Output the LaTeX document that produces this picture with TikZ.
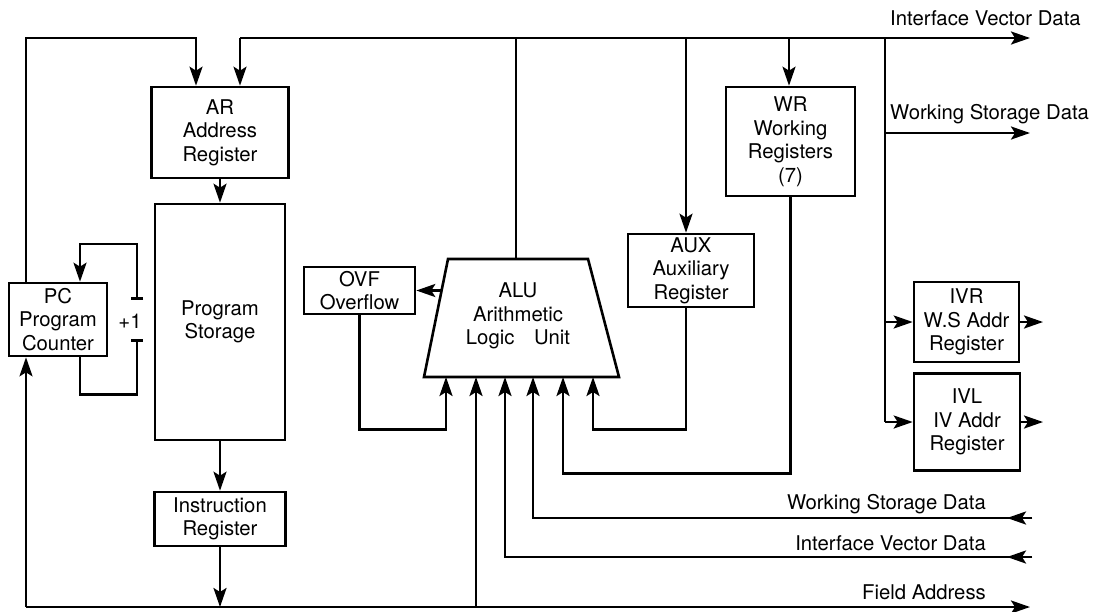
\documentclass[tikz,border=0pt]{standalone}
\usepackage{fontspec}
\setmainfont{TeX Gyre Heros}
\usetikzlibrary{arrows.meta,calc}
\begin{document}
\begin{tikzpicture}[x=1pt,y=-1pt,
  every node/.style={font=\fontsize{20.3}{23.5}\selectfont},
  lw/.style={line width=2.6pt},
  box/.style={draw,lw,align=center,inner sep=0pt},
  tip/.tip={Stealth[length=19pt 0 0,width=13pt 0 0,inset=4pt]},
  arr/.style={lw,-tip},
  wire/.style={lw},
  lbl/.style={inner sep=0pt},
  tbar/.style={lw,-{Bar[width=12pt 0 0]}},
  tbararr/.style={lw,{Bar[width=12pt 0 0]}-tip}]
\useasboundingbox (0,0) rectangle (1094,611);

% boxes
\node[box,minimum width=137pt,minimum height=91pt] (ar) at (220,132.5) {AR\\Address\\Register};
\node[box,minimum width=130pt,minimum height=236pt] (ps) at (220,322) {Program\\Storage};
\node[box,minimum width=131pt,minimum height=54pt] (ir) at (220,519) {Instruction\\Register};
\node[box,minimum width=98pt,minimum height=73pt] (pc) at (58,319.5) {PC\\Program\\Counter};
\node[box,minimum width=111pt,minimum height=47pt] (ovf) at (359.5,290.5) {OVF\\Overflow};
\node[box,minimum width=126pt,minimum height=73pt] (aux) at (691,270.5) {AUX\\Auxiliary\\Register};
\node[box,minimum width=129pt,minimum height=109pt] (wr) at (790.5,141.5) {WR\\Working\\Registers\\(7)};
\node[box,minimum width=105pt,minimum height=80pt] (ivr) at (966.5,322) {IVR\\W.S Addr\\Register};
\node[box,minimum width=106pt,minimum height=97pt] (ivl) at (967,422) {IVL\\IV Addr\\Register};

% ALU
\coordinate (alutl) at (448,259);
\coordinate (alutr) at (588,259);
\coordinate (alubr) at (619,377);
\coordinate (alubl) at (424,377);
\draw[lw] (alutl) -- (alutr) -- (alubr) -- (alubl) -- cycle;
\node[align=center,inner sep=0pt] (alu) at (518,316) {ALU\\Arithmetic\\Logic\hspace{14pt} Unit};

% +1
\node[inner sep=0pt] (inc) at (130,321) {+1};

% labels
\node[lbl,anchor=base west] (tIV) at (890,25) {Interface Vector Data};
\node[lbl,anchor=base west] (tWS) at (890,119) {Working Storage Data};
\node[lbl,anchor=base east] (bWS) at (986,509) {Working Storage Data};
\node[lbl,anchor=base east] (bIV) at (986,550) {Interface Vector Data};
\node[lbl,anchor=base east] (bFA) at (986,599) {Field Address};

% coordinates
\coordinate (pcx) at (26,0);
\coordinate (jA) at (196,38);
\coordinate (bL) at (240,38);
\coordinate (bR) at (1030,38);
\coordinate (bA) at (516,38);
\coordinate (bX) at (686,38);
\coordinate (bW) at (789,38);
\coordinate (bV) at (885,38);
\coordinate (wsout) at (1030,133);
\coordinate (ivrout) at (1043,322);
\coordinate (ivlout) at (1043,422);
\coordinate (fL) at (26,607);
\coordinate (fR) at (1030,607);
\coordinate (loopx) at (80,0);
\coordinate (pl1) at (137,300);
\coordinate (pl2) at (137,339);
\coordinate (cx1) at (446,0);
\coordinate (cx2) at (476,607);
\coordinate (cx3) at (505,0);
\coordinate (cx4) at (533,0);
\coordinate (cx5) at (563,0);
\coordinate (cx6) at (593,0);
\coordinate (ivin) at (1032,557);
\coordinate (wsin) at (1032,518);

% top left loop PC -> AR
\draw[arr] (pc.north -| pcx) |- (jA) -- (jA |- ar.north);
% main top bus
\draw[arr] (bL) -- (bR);
\draw[arr] (bL) -- (bL |- ar.north);
\draw[wire] (bA) -- (bA |- alutl);
\draw[arr] (bX) -- (bX |- aux.north);
\draw[arr] (bW) -- (bW |- wr.north);
\draw[wire] (bV) -- (bV |- ivl.west);
\draw[arr] (bV |- wsout) -- (wsout);
\draw[arr] (bV |- ivr.west) -- (ivr.west);
\draw[arr] (bV |- ivl.west) -- (ivl.west);
\draw[arr] (ivr.east) -- (ivrout);
\draw[arr] (ivl.east) -- (ivlout);

% program path
\draw[arr] (ar.south) -- (ps.north);
\draw[arr] (ps.south) -- (ir.north);
\draw[arr] (ir.south) -- (ir.south |- fL);
\draw[arr] (fL) -- (fR);
\draw[arr] (fL) -- (fL |- pc.south);

% PC increment loop
\draw[tbar] (pc.south -| loopx) -- ++(0,37) -| (pl2);
\draw[tbararr] (pl1) -- ++(0,-56) -| (pc.north -| loopx);

% ALU -> OVF
\draw[arr] ($(alutl)!0.267!(alubl)$) -- (ovf.east);

% ALU inputs
\draw[arr] (ovf.south) -- ++(0,114) -| (alubl -| cx1);
\draw[arr] (cx2) -- (cx2 |- alubl);
\draw[arr] (ivin) -| (alubl -| cx3);
\draw[arr] (ivin) -- ++(-25,0);
\draw[arr] (wsin) -| (alubl -| cx4);
\draw[arr] (wsin) -- ++(-25,0);
\draw[arr] (wr.south) -- ++(0,276) -| (alubl -| cx5);
\draw[arr] (aux.south -| bX) -- ++(0,121) -| (alubl -| cx6);
\end{tikzpicture}
\end{document}
